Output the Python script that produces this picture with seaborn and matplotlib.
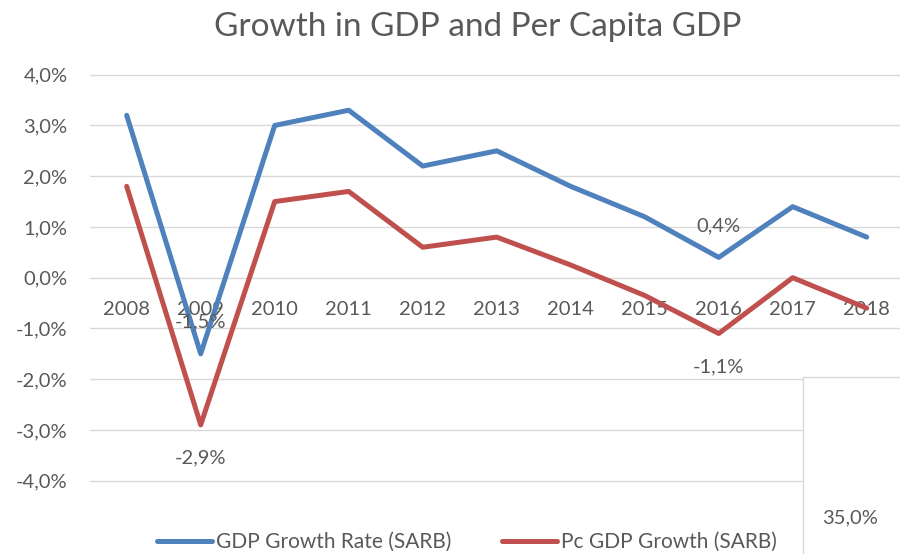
import matplotlib
matplotlib.use("Agg")
import matplotlib.pyplot as plt
import matplotlib.patches as mpatches
from matplotlib.ticker import FuncFormatter, MultipleLocator
import seaborn as sns
import pandas as pd

# Annual growth rates, percent
years = ["2008", "2009", "2010", "2011", "2012", "2013",
         "2014", "2015", "2016", "2017", "2018"]
gdp_growth = [3.2, -1.5, 3.0, 3.3, 2.2, 2.5, 1.8, 1.2, 0.4, 1.4, 0.8]
pc_gdp_growth = [1.8, -2.9, 1.5, 1.7, 0.6, 0.8, 0.25, -0.35, -1.1, 0.0, -0.6]

series_names = ["GDP Growth Rate (SARB)", "Pc GDP Growth (SARB)"]
series_colors = ["#4F81BD", "#C0504D"]
labelled_years = ["2009", "2016"]
side_value = 35.0

TEXT = "#595959"
GRID = "#D9D9D9"

sns.set_style("white")
plt.rcParams["font.family"] = ["Lato", "DejaVu Sans"]

df = pd.DataFrame({
    "year": years * 2,
    "growth": gdp_growth + pc_gdp_growth,
    "series": [series_names[0]] * len(years) + [series_names[1]] * len(years),
})


def pct(v, pos=None):
    return f"{v:.1f}%".replace(".", ",")


fig = plt.figure(figsize=(9.0, 5.54), dpi=100)
ax = fig.add_axes([89.7 / 900, 1 - 480.7 / 554, 814 / 900, 406 / 554])

sns.lineplot(data=df, x="year", y="growth", hue="series",
             palette=series_colors, linewidth=3.6, sort=False, ax=ax,
             solid_capstyle="round", solid_joinstyle="round", zorder=3)

ax.set_xlim(-0.5, len(years) - 0.5)
ax.set_ylim(-4, 4)
ax.yaxis.set_major_locator(MultipleLocator(1))
ax.yaxis.set_major_formatter(FuncFormatter(pct))
ax.grid(axis="y", color=GRID, linewidth=1.0)
ax.grid(axis="x", visible=False)
for gl in ax.get_ygridlines():
    gl.set_clip_on(False)
ax.set_xlabel("")
ax.set_ylabel("")
for s in ["top", "right", "left"]:
    ax.spines[s].set_visible(False)
ax.spines["bottom"].set_position(("data", 0))
ax.spines["bottom"].set_visible(False)
ax.tick_params(axis="both", length=0, labelsize=14.5, labelcolor=TEXT)
ax.tick_params(axis="y", pad=16)
ax.tick_params(axis="x", pad=16.5)

# value labels: GDP above the line, per-capita below
for vals, sign, off in [(gdp_growth, 1, 23), (pc_gdp_growth, -1, 24)]:
    for yr in labelled_years:
        i = years.index(yr)
        ax.annotate(pct(vals[i]), xy=(i, vals[i]), xytext=(0, off * sign),
                    textcoords="offset points", ha="center", va="center",
                    fontsize=14.5, color=TEXT, zorder=4)

handles, labels = ax.get_legend_handles_labels()
ax.legend(handles, labels, loc="center", ncol=2, frameon=False,
          bbox_to_anchor=(467 / 900, 1 - 542 / 554),
          bbox_transform=fig.transFigure, fontsize=15,
          handlelength=2.64, handletextpad=0.2, columnspacing=2.4,
          labelcolor=TEXT)

fig.text(478 / 900, 1 - 27 / 554, "Growth in GDP and Per Capita GDP",
         ha="center", va="center", fontsize=24, color=TEXT)

# neighbouring panel edge at the lower right
side = mpatches.Rectangle((803 / 900, -0.01), 0.2, 0.01 + (554 - 377) / 554,
                          transform=fig.transFigure, facecolor="white",
                          edgecolor=GRID, linewidth=1.0, zorder=5)
fig.add_artist(side)
fig.text(850 / 900, 1 - 518 / 554, pct(side_value), ha="center", va="center",
         fontsize=14.5, color=TEXT, zorder=6)

fig.savefig("out.png", dpi=100)
